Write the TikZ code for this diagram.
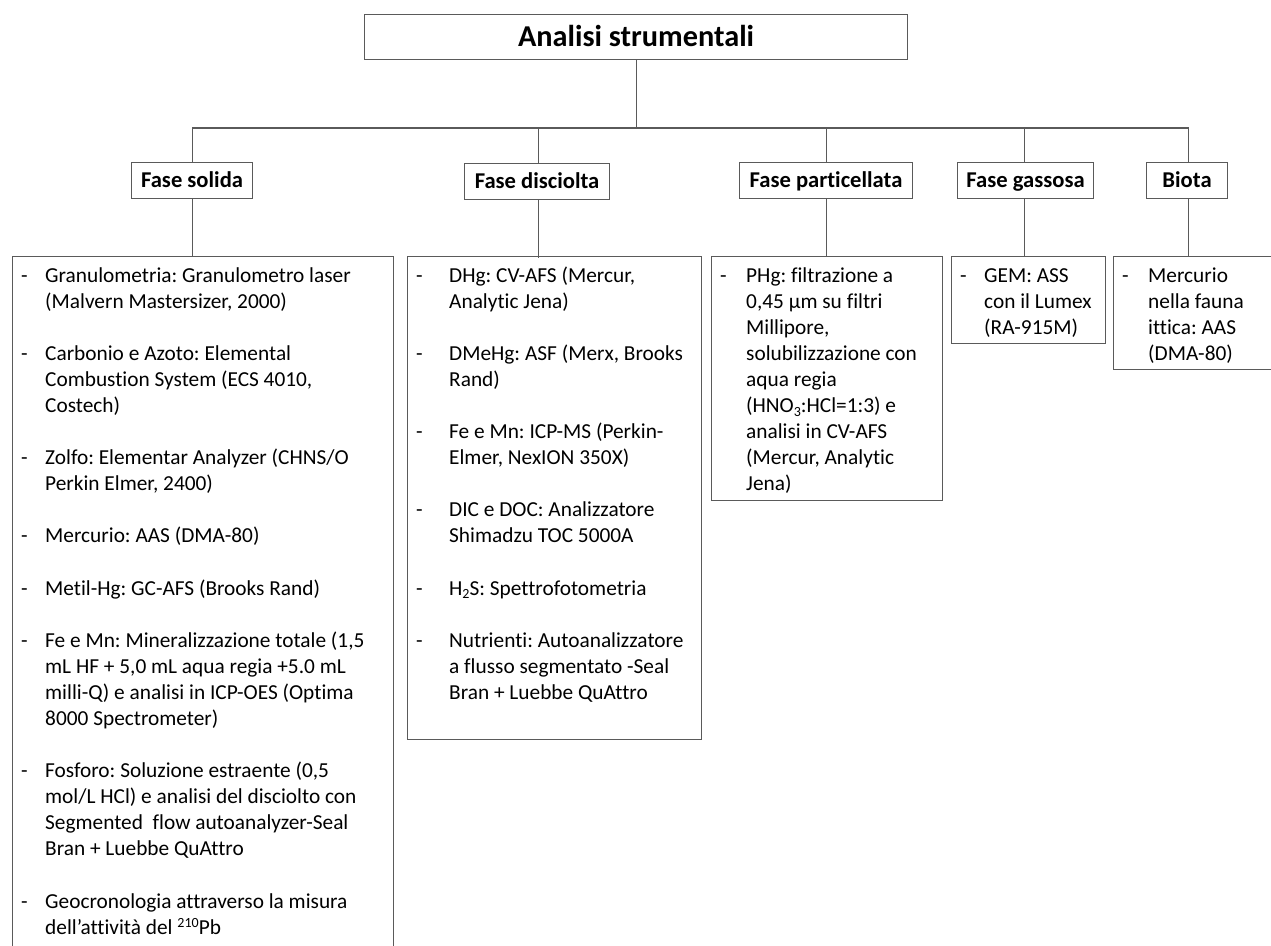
\documentclass[tikz,border=0pt]{standalone}
\usepackage{fontspec}
\setmainfont{Carlito}[Ligatures={NoCommon}]
\frenchspacing
\definecolor{linegray}{HTML}{5A5A5A}
\newcommand{\mysub}[1]{\raisebox{-3.5pt}{\fontsize{14}{14}\selectfont #1}}
\newcommand{\mysup}[1]{\raisebox{7pt}{\fontsize{14}{14}\selectfont #1}}
\tikzset{
  conn/.style={draw=linegray, line width=1.1pt},
  boxline/.style={draw=linegray, line width=1.1pt, rectangle, inner sep=0pt, anchor=north west},
  titlebox/.style={boxline, text height=19.5pt, text depth=0pt, font=\fontsize{30.3}{36}\selectfont\bfseries},
  phasebox/.style={boxline, text height=14.6pt, text depth=0pt, font=\fontsize{22.6}{27}\selectfont\bfseries},
  listtext/.style={anchor=north west, inner sep=0pt, font=\fontsize{21.33}{26.08}\selectfont},
}
\begin{document}
\begin{tikzpicture}[x=1pt,y=-1pt]
\useasboundingbox (0,0) rectangle (1271,945);
\clip (0,0) rectangle (1271,945);
\fill[white] (0,0) rectangle (1271,945);

% top
\node[titlebox, minimum width=543pt, minimum height=45pt] (top) at (364,14) {Analisi strumentali};
\coordinate (bus) at (636,128);

% phases
\node[phasebox, minimum width=121pt, minimum height=36pt] (pa) at (131,162) {Fase solida};
\node[phasebox, minimum width=145pt, minimum height=36pt] (pb) at (464,163) {Fase disciolta};
\node[phasebox, minimum width=173pt, minimum height=36pt] (pc) at (739,162) {Fase particellata};
\node[phasebox, minimum width=136pt, minimum height=36pt] (pd) at (957,162) {Fase gassosa};
\node[phasebox, minimum width=81pt, minimum height=36pt] (pe) at (1146,162) {Biota};

% list boxes
\node[boxline, minimum width=381pt, minimum height=720pt] (ba) at (12,256) {};
\node[boxline, minimum width=294pt, minimum height=483pt] (bb) at (407,256) {};
\node[boxline, minimum width=231pt, minimum height=244pt] (bc) at (711,256) {};
\node[boxline, minimum width=154pt, minimum height=87pt] (bd) at (951,256) {};
\node[boxline, minimum width=170pt, minimum height=113pt] (be) at (1113,256) {};

% connectors
\draw[conn] (top.south) -- (top.south |- bus);
\draw[conn] (pa.north |- bus) -- ([xshift=1.5pt]pe.north |- bus);
\foreach \p/\dx in {pa/0.5,pb/1,pc/0,pd/-1,pe/1.5} {
  \draw[conn] ([xshift=\dx pt]\p.north) -- ([xshift=\dx pt]\p.north |- bus);
  \draw[conn] ([xshift=\dx pt]\p.south) -- ++(0,58);
}

% texts
\node[listtext] (ta) at ([xshift=9pt,yshift=-7.7pt]ba.north west) {%
\begin{tabular}{@{}p{24pt}@{}l@{}}
- & Granulometria: Granulometro laser\\
  & (Malvern Mastersizer, 2000)\\
  & \\
- & Carbonio e Azoto: Elemental\\
  & Combustion System (ECS 4010,\\
  & Costech)\\
  & \\
- & Zolfo: Elementar Analyzer (CHNS/O\\
  & Perkin Elmer, 2400)\\
  & \\
- & Mercurio: AAS (DMA-80)\\
  & \\
- & Metil-Hg: GC-AFS (Brooks Rand)\\
  & \\
- & Fe e Mn: Mineralizzazione totale (1,5\\
  & mL HF + 5,0 mL aqua regia +5.0 mL\\
  & milli-Q) e analisi in ICP-OES (Optima\\
  & 8000 Spectrometer)\\
  & \\
- & Fosforo: Soluzione estraente (0,5\\
  & mol/L HCl) e analisi del disciolto con\\
  & Segmented\ \ flow autoanalyzer-Seal\\
  & Bran + Luebbe QuAttro\\
  & \\
- & Geocronologia attraverso la misura\\
  & dell’attività del \mysup{210}Pb\\
\end{tabular}};

\node[listtext] (tb) at ([xshift=9pt,yshift=-7.7pt]bb.north west) {%
\begin{tabular}{@{}p{33pt}@{}l@{}}
- & DHg: CV-AFS (Mercur,\\
  & Analytic Jena)\\
  & \\
- & DMeHg: ASF (Merx, Brooks\\
  & Rand)\\
  & \\
- & Fe e Mn: ICP-MS (Perkin-\\
  & Elmer, NexION 350X)\\
  & \\
- & DIC e DOC: Analizzatore\\
  & Shimadzu TOC 5000A\\
  & \\
- & H\mysub{2}S: Spettrofotometria\\
  & \\
- & Nutrienti: Autoanalizzatore\\
  & a flusso segmentato -Seal\\
  & Bran + Luebbe QuAttro\\
\end{tabular}};

\node[listtext] (tc) at ([xshift=9pt,yshift=-7.7pt]bc.north west) {%
\begin{tabular}{@{}p{26pt}@{}l@{}}
- & PHg: filtrazione a\\
  & 0,45 µm su filtri\\
  & Millipore,\\
  & solubilizzazione con\\
  & aqua regia\\
  & (HNO\mysub{3}:HCl=1:3) e\\
  & analisi in CV-AFS\\
  & (Mercur, Analytic\\
  & Jena)\\
\end{tabular}};

\node[listtext] (td) at ([xshift=9pt,yshift=-7.7pt]bd.north west) {%
\begin{tabular}{@{}p{24pt}@{}l@{}}
- & GEM: ASS\\
  & con il Lumex\\
  & (RA-915M)\\
\end{tabular}};

\node[listtext] (te) at ([xshift=9pt,yshift=-7.7pt]be.north west) {%
\begin{tabular}{@{}p{26pt}@{}l@{}}
- & Mercurio\\
  & nella fauna\\
  & ittica: AAS\\
  & (DMA-80)\\
\end{tabular}};
\end{tikzpicture}
\end{document}
